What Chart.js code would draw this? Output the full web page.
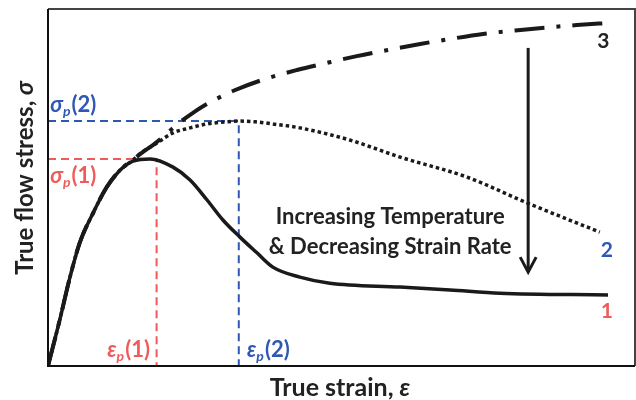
<!DOCTYPE html>
<html>
<head>
<meta charset="utf-8">
<script src="https://cdn.jsdelivr.net/npm/chart.js@4"></script>
<style>
  body { margin: 0; background: #fff; }
  #wrap { width: 636px; height: 400px; }
</style>
</head>
<body>
<div id="wrap"><canvas id="flowChart" width="636" height="400"></canvas></div>
<script>
// curve 1 - solid (high temperature / low strain rate)
const strain1 = [0, 2.0, 3.7, 5.4, 7.7, 10.0, 12.3, 14.5, 17.4, 21.3, 24.2, 27.1, 29.8, 32.7, 35.6, 38.3, 42.9, 48.0, 60.0, 68.5, 77.0, 95.4];
const stress1 = [0, 12.9, 24.6, 34.5, 42.9, 50.1, 54.9, 57.4, 58.0, 55.7, 52.1, 46.5, 40.9, 36.1, 31.7, 27.7, 24.9, 23.2, 22.1, 21.3, 20.4, 19.9];

// curve 2 - dotted
const strain2 = [0, 2.0, 3.7, 5.4, 7.7, 10.0, 12.3, 14.5, 15.7, 18.6, 21.3, 24.2, 27.1, 30.5, 32.5, 35.3, 38.3, 42.9, 51.4, 60.0, 71.4, 81.6, 94.0];
const stress2 = [0, 12.9, 24.6, 34.5, 42.9, 50.1, 54.9, 57.7, 59.5, 62.5, 65.3, 66.7, 67.8, 68.4, 68.6, 68.4, 67.8, 66.7, 63.3, 58.5, 52.9, 45.7, 37.5];

// curve 3 - dash-dot (work hardening only)
const strain3 = [0, 2.0, 3.7, 5.4, 7.7, 10.0, 12.3, 14.5, 16.2, 18.2, 20.3, 22.1, 24.7, 27.1, 31.9, 37.0, 42.4, 47.5, 52.6, 57.9, 63.4, 68.5, 74.1, 79.6, 85.5, 90.1, 95.7];
const stress3 = [0, 12.9, 24.6, 34.5, 42.9, 50.1, 54.9, 57.8, 60.0, 62.3, 65.2, 67.8, 70.9, 73.4, 77.3, 80.4, 82.9, 84.9, 86.8, 88.5, 90.2, 91.6, 93.0, 94.0, 94.9, 95.5, 96.1];

// peak strain / peak stress for curves 1 and 2
const peakStrain = [18.5, 32.5];
const peakStress = [58.0, 68.6];

const RED = '#ef5b5b';
const BLUE = '#2f57b4';
const INK = '#1a1a1a';
const FONT = 'Lato, "Noto Sans", sans-serif';

const toPoints = (xs, ys) => xs.map((x, i) => ({ x, y: ys[i] }));
const peakGuide = i => [
    { x: 0, y: peakStress[i] },
    { x: peakStrain[i], y: peakStress[i] },
    { x: peakStrain[i], y: 0 }
];

function drawPeakLabel(ctx, sym, idx, x, y, color, alignRight) {
    ctx.fillStyle = color;
    ctx.textBaseline = 'alphabetic';
    ctx.textAlign = 'left';
    ctx.font = `italic bold 22px ${FONT}`;
    const w1 = ctx.measureText(sym).width;
    ctx.font = `italic bold 14px ${FONT}`;
    const w2 = ctx.measureText('p').width;
    ctx.font = `bold 22px ${FONT}`;
    const w3 = ctx.measureText(`(${idx})`).width;
    let x0 = alignRight ? x - (w1 + w2 + w3) : x;
    ctx.font = `italic bold 22px ${FONT}`;
    ctx.fillText(sym, x0, y);
    ctx.font = `italic bold 14px ${FONT}`;
    ctx.fillText('p', x0 + w1, y + 4);
    ctx.font = `bold 22px ${FONT}`;
    ctx.fillText(`(${idx})`, x0 + w1 + w2 + 1, y);
}

function drawTitle(ctx, plain, greek, cx, cy, size) {
    ctx.font = `bold ${size}px ${FONT}`;
    const w1 = ctx.measureText(plain).width;
    ctx.font = `italic bold ${size}px ${FONT}`;
    const w2 = ctx.measureText(greek).width;
    const x0 = cx - (w1 + w2) / 2;
    ctx.textAlign = 'left';
    ctx.textBaseline = 'middle';
    ctx.fillStyle = '#222';
    ctx.font = `bold ${size}px ${FONT}`;
    ctx.fillText(plain, x0, cy);
    ctx.font = `italic bold ${size}px ${FONT}`;
    ctx.fillText(greek, x0 + w1, cy);
}

const annotate = {
    id: 'annotate',
    afterDatasetsDraw(chart) {
        const { ctx, chartArea: a, scales: { x, y } } = chart;
        ctx.save();

        // frame
        ctx.lineWidth = 2;
        ctx.strokeStyle = '#444';
        ctx.beginPath();
        ctx.moveTo(a.left, a.top);
        ctx.lineTo(a.right, a.top);
        ctx.lineTo(a.right, a.bottom);
        ctx.stroke();
        ctx.strokeStyle = '#111';
        ctx.beginPath();
        ctx.moveTo(a.left, a.top);
        ctx.lineTo(a.left, a.bottom);
        ctx.lineTo(a.right, a.bottom);
        ctx.stroke();

        // axis titles
        drawTitle(ctx, 'True strain, ', 'ε', 340, a.bottom + 22, 25);
        ctx.save();
        ctx.translate(25, 178);
        ctx.rotate(-Math.PI / 2);
        drawTitle(ctx, 'True flow stress, ', 'σ', 0, 0, 24);
        ctx.restore();

        // peak labels
        drawPeakLabel(ctx, 'σ', 2, x.getPixelForValue(0.4), y.getPixelForValue(71.2), BLUE, false);
        drawPeakLabel(ctx, 'σ', 1, x.getPixelForValue(0.4), y.getPixelForValue(51.3), RED, false);
        drawPeakLabel(ctx, 'ε', 1, x.getPixelForValue(17.2), y.getPixelForValue(2.4), RED, true);
        drawPeakLabel(ctx, 'ε', 2, x.getPixelForValue(33.9), y.getPixelForValue(2.4), BLUE, false);

        // curve numbers
        ctx.font = `bold 21px ${FONT}`;
        ctx.textAlign = 'center';
        ctx.textBaseline = 'alphabetic';
        ctx.fillStyle = '#222';
        ctx.fillText('3', x.getPixelForValue(94.6), y.getPixelForValue(89.2));
        ctx.fillStyle = BLUE;
        ctx.fillText('2', x.getPixelForValue(95.2), y.getPixelForValue(30.4));
        ctx.fillStyle = RED;
        ctx.fillText('1', x.getPixelForValue(95.2), y.getPixelForValue(13.5));

        // trend text
        ctx.fillStyle = '#222';
        ctx.font = `bold 22px ${FONT}`;
        ctx.fillText('Increasing Temperature', x.getPixelForValue(58.3), y.getPixelForValue(39.8));
        ctx.fillText('& Decreasing Strain Rate', x.getPixelForValue(58.3), y.getPixelForValue(31.4));

        // trend arrow
        const ax = x.getPixelForValue(81.8);
        const top = y.getPixelForValue(89.1);
        const tip = y.getPixelForValue(26.3);
        ctx.strokeStyle = INK;
        ctx.lineWidth = 3;
        ctx.lineCap = 'butt';
        ctx.beginPath();
        ctx.moveTo(ax, top);
        ctx.lineTo(ax, tip - 2);
        ctx.stroke();
        ctx.lineJoin = 'miter';
        ctx.beginPath();
        ctx.moveTo(ax - 8, tip - 15);
        ctx.lineTo(ax, tip);
        ctx.lineTo(ax + 8, tip - 15);
        ctx.stroke();

        ctx.restore();
    }
};

new Chart(document.getElementById('flowChart'), {
    type: 'line',
    data: {
        datasets: [
            {
                label: '1',
                data: toPoints(strain1, stress1),
                borderColor: INK,
                borderWidth: 3.5,
                cubicInterpolationMode: 'monotone'
            },
            {
                label: '2',
                data: toPoints(strain2, stress2),
                borderColor: INK,
                borderWidth: 3.5,
                borderDash: [3.5, 3],
                cubicInterpolationMode: 'monotone'
            },
            {
                label: '3',
                data: toPoints(strain3, stress3),
                borderColor: INK,
                borderWidth: 4,
                borderDash: [30, 12, 4, 12],
                cubicInterpolationMode: 'monotone'
            },
            {
                label: 'peak 1',
                data: peakGuide(0),
                borderColor: RED,
                borderWidth: 2,
                borderDash: [8, 5],
                tension: 0
            },
            {
                label: 'peak 2',
                data: peakGuide(1),
                borderColor: BLUE,
                borderWidth: 2,
                borderDash: [8, 5],
                tension: 0
            }
        ]
    },
    options: {
        responsive: false,
        animation: false,
        layout: { padding: { left: 48, top: 9, right: 1, bottom: 34 } },
        elements: { point: { radius: 0 } },
        plugins: {
            legend: { display: false },
            tooltip: { enabled: false }
        },
        scales: {
            x: { type: 'linear', min: 0, max: 100, display: false },
            y: { type: 'linear', min: 0, max: 100, display: false }
        }
    },
    plugins: [annotate]
});
</script>
</body>
</html>
